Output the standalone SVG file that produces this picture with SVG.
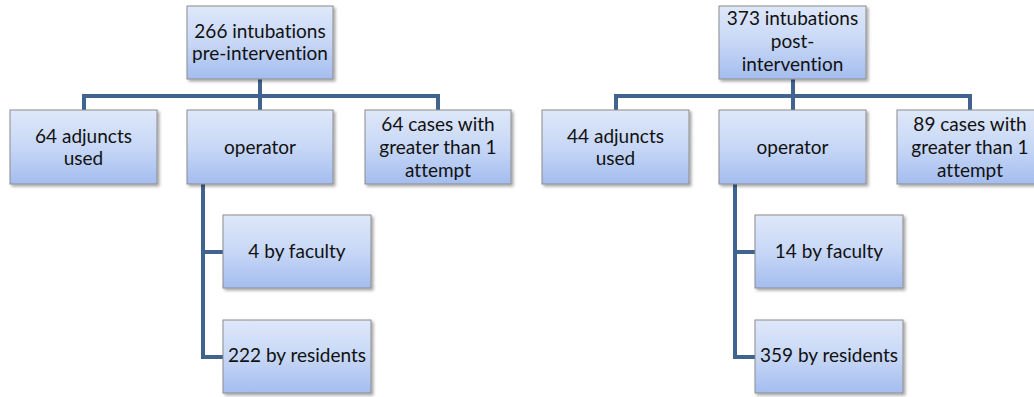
<svg xmlns="http://www.w3.org/2000/svg" width="1034" height="397" viewBox="0 0 1034 397">
<style>
.box{fill:url(#g);stroke:#8c8c8c;stroke-width:1;filter:url(#sh)}
.t{font-family:Lato,"Open Sans","Liberation Sans",sans-serif;font-size:19px;fill:#111;text-anchor:middle;font-variant-ligatures:none}
.c{fill:none;stroke:#41648f;stroke-width:4}
</style>
<defs>
<linearGradient id="g" x1="0" y1="0" x2="0" y2="1">
<stop offset="0" stop-color="#dfe8fa"/>
<stop offset="0.5" stop-color="#c7d7f6"/>
<stop offset="1" stop-color="#a4bdef"/>
</linearGradient>
<filter id="sh" x="-10%" y="-10%" width="125%" height="130%">
<feDropShadow dx="2" dy="2" stdDeviation="1.5" flood-color="#000" flood-opacity="0.35"/>
</filter>
</defs>
<g id="connectors">
<path class="c" d="M260 79V96M84 110V96H438V110M260 96V110"/>
<path class="c" d="M203 184V357H223M203 252H223"/>
<path class="c" d="M793 79V96M616 110V96H970V110M793 96V110"/>
<path class="c" d="M735 184V357H755M735 252H755"/>
</g>
<g id="n1"><rect class="box" x="187" y="6" width="146" height="73"/><text class="t" x="260" y="38">266 intubations</text><text class="t" x="260" y="60">pre-intervention</text></g>
<g id="n2"><rect class="box" x="10" y="110" width="147" height="74"/><text class="t" x="83.5" y="143">64 adjuncts</text><text class="t" x="83.5" y="165">used</text></g>
<g id="n3"><rect class="box" x="187" y="110" width="146" height="74"/><text class="t" x="260" y="154">operator</text></g>
<g id="n4"><rect class="box" x="365" y="110" width="146" height="74"/><text class="t" x="438" y="131">64 cases with</text><text class="t" x="438" y="154">greater than 1</text><text class="t" x="438" y="177">attempt</text></g>
<g id="n5"><rect class="box" x="223" y="215" width="148" height="73"/><text class="t" x="297" y="258">4 by faculty</text></g>
<g id="n6"><rect class="box" x="223" y="320" width="148" height="73"/><text class="t" x="297" y="362">222 by residents</text></g>
<g id="n7"><rect class="box" x="719" y="6" width="147" height="73"/><text class="t" x="792.5" y="25">373 intubations</text><text class="t" x="792.5" y="48">post-</text><text class="t" x="792.5" y="71">intervention</text></g>
<g id="n8"><rect class="box" x="542" y="110" width="147" height="74"/><text class="t" x="615.5" y="143">44 adjuncts</text><text class="t" x="615.5" y="165">used</text></g>
<g id="n9"><rect class="box" x="719" y="110" width="147" height="74"/><text class="t" x="792.5" y="154">operator</text></g>
<g id="n10"><rect class="box" x="897" y="110" width="146" height="74"/><text class="t" x="970" y="131">89 cases with</text><text class="t" x="970" y="154">greater than 1</text><text class="t" x="970" y="177">attempt</text></g>
<g id="n11"><rect class="box" x="755" y="215" width="148" height="73"/><text class="t" x="829" y="258">14 by faculty</text></g>
<g id="n12"><rect class="box" x="755" y="320" width="148" height="73"/><text class="t" x="829" y="362">359 by residents</text></g>
</svg>
